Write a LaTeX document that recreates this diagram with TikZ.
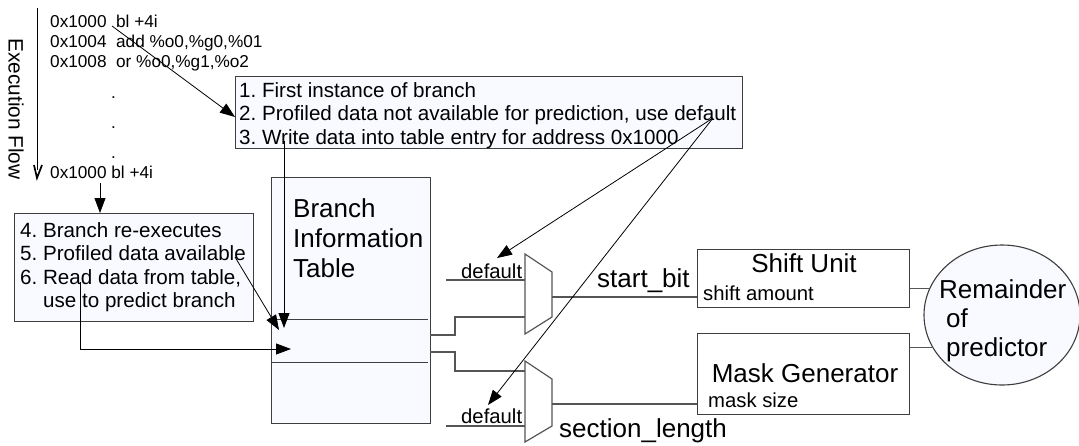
\documentclass[tikz,border=0pt]{standalone}
\usepackage{fontspec}
\setmainfont{Liberation Sans}
\usetikzlibrary{arrows.meta,shapes.geometric}
\definecolor{boxfill}{HTML}{F8FAFF}
\definecolor{edgegray}{HTML}{3E3E3E}
\definecolor{wiregray}{HTML}{555555}
\frenchspacing

\begin{document}
\begin{tikzpicture}[x=1pt,y=-1pt,
  codetxt/.style={anchor=base west,inner sep=0pt,font=\fontsize{17.2}{20}\selectfont},
  boxtxt/.style={anchor=base west,inner sep=0pt,font=\fontsize{20.6}{24}\selectfont},
  bigtxt/.style={anchor=base west,inner sep=0pt,font=\fontsize{26}{30}\selectfont},
  smalltxt/.style={anchor=base west,inner sep=0pt,font=\fontsize{20.3}{24}\selectfont},
  infobox/.style={draw=edgegray,line width=1.2pt,fill=boxfill,rectangle,inner sep=0pt,anchor=north west},
  unitbox/.style={draw=edgegray,line width=1.2pt,fill=white,rectangle,inner sep=0pt,anchor=north west},
  muxshape/.style={draw=wiregray,line width=1.2pt,fill=white},
  wire/.style={draw=wiregray,line width=1.1pt},
  arr/.style={draw=black,line width=0.8pt,-{Triangle[length=15pt,width=11pt]}},
]
\useasboundingbox (0,0) rectangle (1079,445);
\fill[white] (0,0) rectangle (1079,445);

% ---- execution flow -------------------------------------------------
\coordinate (flowtop) at (37,8);
\coordinate (flowend) at (37,178);
\draw[line width=0.8pt] (flowtop) -- (37,170);
\draw[line width=1.7pt] (34,165) -- (flowend) -- (42,165);
\node[rotate=-90,inner sep=0pt,font=\fontsize{20.8}{24}\selectfont] (flowlbl) at (16,109) {Execution Flow};

% ---- instruction listing --------------------------------------------
\node[codetxt] (codeA) at (50,27) {0x1000\ \ bl +4i};
\node[codetxt] (codeB) at (50,47) {0x1004\ \ add \%o0,\%g0,\%01};
\node[codetxt] (codeC) at (50,67) {0x1008\ \ or \%o0,\%g1,\%o2};
\node[codetxt] (dot1) at (111,98) {.};
\node[codetxt] (dot2) at (111,128) {.};
\node[codetxt] (dot3) at (111,158) {.};
\node[codetxt] (codeD) at (50,178) {0x1000 bl +4i};

% ---- first-instance note --------------------------------------------
\node[infobox,minimum width=507pt,minimum height=72pt] (box1) at (235,76) {};
\node[boxtxt] (n1) at (239,97) {1. First instance of branch};
\node[boxtxt] (n2) at (239,120.5) {2. Profiled data not available for prediction, use default};
\node[boxtxt] (n3) at (239,144) {3. Write data into table entry for address 0x1000};

% ---- re-execution note ----------------------------------------------
\node[infobox,minimum width=239pt,minimum height=108pt] (box2) at (14,213) {};
\node[boxtxt] (n4) at (20,237) {4. Branch re-executes};
\node[boxtxt] (n5) at (20,260.5) {5. Profiled data available};
\node[boxtxt] (n6) at (20,284) {6. Read data from table,};
\node[boxtxt] (n7) at (43,307.5) {use to predict branch};

% ---- branch information table ---------------------------------------
\node[infobox,minimum width=159pt,minimum height=246pt] (bit) at (271,177) {};
\node[bigtxt] (bitA) at (293,217) {Branch};
\node[bigtxt] (bitB) at (293,247) {Information};
\node[bigtxt] (bitC) at (293,277) {Table};
\draw[edgegray,line width=1pt] (bit.west |- 0,319) -- (428,319);
\draw[edgegray,line width=1pt] (bit.west |- 0,362) -- (428,362);

% ---- multiplexers -----------------------------------------------------
\draw[muxshape] (525,254) -- (552,272) -- (552,317) -- (525,334) -- cycle;
\draw[muxshape] (525,361) -- (552,379) -- (552,426) -- (525,442) -- cycle;
\node[smalltxt] (dA) at (461,278) {default};
\node[smalltxt] (dB) at (461,423) {default};
\node[bigtxt] (sbit) at (597,287) {start\_bit};
\node[bigtxt] (slen) at (559,437) {section\_length};

% ---- shift unit and mask generator ------------------------------------
\node[unitbox,minimum width=212pt,minimum height=58pt] (su) at (697,249) {};
\node[bigtxt,anchor=base] (suT) at (804,272) {Shift Unit};
\node[smalltxt] (suL) at (703,300) {shift amount};
\node[unitbox,minimum width=212pt,minimum height=81pt] (mg) at (697,333) {};
\node[bigtxt,anchor=base] (mgT) at (805,382) {Mask Generator};
\node[smalltxt] (mgL) at (708,407) {mask size};

% ---- remainder of predictor -------------------------------------------
\node[ellipse,draw=edgegray,line width=1.1pt,fill=boxfill,inner sep=0pt,
      minimum width=156pt,minimum height=140pt] (rem) at (1002,315) {};
\node[bigtxt] (remA) at (939,298) {Remainder};
\node[bigtxt] (remB) at (946,327) {of};
\node[bigtxt] (remC) at (946,356) {predictor};

% ---- wires ------------------------------------------------------------
\coordinate (m1a) at (525,280);
\coordinate (m1b) at (525,317);
\coordinate (m1o) at (552,297);
\coordinate (m2a) at (525,371);
\coordinate (m2b) at (525,426);
\coordinate (m2o) at (552,404);
\coordinate (bo1) at (430,335);
\coordinate (bo2) at (430,352);
\draw[wire] (446,280) -- (m1a);
\draw[wire] (446,426) -- (m2b);
\draw[wire] (bo1) -- ++(25,0) |- (m1b);
\draw[wire] (bo2) -- ++(25,0) |- (m2a);
\draw[wire] (m1o) -- (su.west |- m1o);
\draw[wire] (m2o) -- (mg.west |- m2o);
\draw[wire] (rem.160) -- (rem.160 -| su.east);
\draw[wire] (rem.205) -- (rem.205 -| mg.east);

% ---- arrows -----------------------------------------------------------
\coordinate (a1s) at (112,26);
\coordinate (a1e) at (235,117);
\coordinate (wr) at (284,141);
\coordinate (bitIn1) at (284,328);
\coordinate (d4) at (100,183);
\coordinate (av) at (235,257);
\coordinate (bitIn2) at (279,330);
\coordinate (rd) at (80,282);
\coordinate (bitIn3) at (291,349);
\coordinate (dflt) at (713,118);
\coordinate (mux1d) at (497,258);
\coordinate (mux2d) at (488,405);
\draw[arr] (a1s) -- (a1e);
\draw[arr] (wr) -- (bitIn1);
\draw[arr] (d4) -- (d4 |- box2.north);
\draw[arr] (av) -- (bitIn2);
\draw[arr] (rd) |- (bitIn3);
\draw[arr] (dflt) -- (mux1d);
\draw[arr] (dflt) -- (mux2d);
\end{tikzpicture}
\end{document}
